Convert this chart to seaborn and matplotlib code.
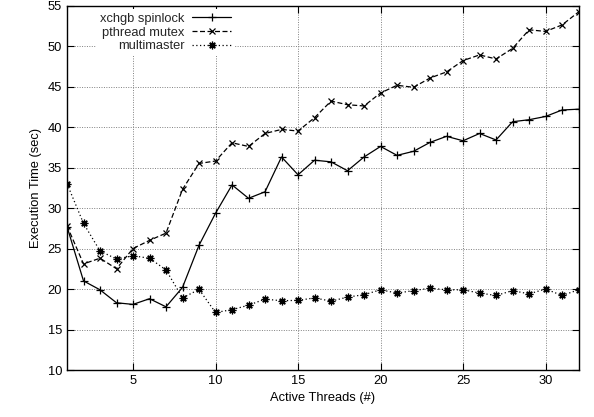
import matplotlib
matplotlib.use("Agg")
import matplotlib.pyplot as plt
import seaborn as sns
import pandas as pd

threads = list(range(1, 33))
spinlock = [27.7, 21.0, 19.9, 18.3, 18.1, 18.8, 17.8, 20.2, 25.4, 29.35,
            32.85, 31.2, 32.0, 36.3, 34.1, 35.9, 35.7, 34.6, 36.3, 37.6,
            36.5, 37.0, 38.1, 38.85, 38.3, 39.2, 38.4, 40.65, 40.9, 41.3,
            42.1, 42.2]
pthread = [27.8, 23.1, 23.8, 22.5, 25.0, 26.0, 26.9, 32.3, 35.5, 35.8,
           38.05, 37.6, 39.2, 39.7, 39.5, 41.15, 43.2, 42.75, 42.6, 44.2,
           45.15, 44.9, 46.05, 46.8, 48.2, 48.9, 48.4, 49.7, 52.0, 51.8,
           52.6, 54.2]
multimaster = [33.0, 28.1, 24.7, 23.7, 24.1, 23.8, 22.35, 18.9, 19.95, 17.1,
               17.45, 18.0, 18.75, 18.55, 18.6, 18.9, 18.5, 19.0, 19.3, 19.9,
               19.5, 19.8, 20.1, 19.9, 19.9, 19.5, 19.2, 19.8, 19.4, 20.0,
               19.2, 19.9]

series_names = ["xchgb spinlock", "pthread mutex", "multimaster"]
x_ticks = [5, 10, 15, 20, 25, 30]
y_ticks = [10, 15, 20, 25, 30, 35, 40, 45, 50, 55]

sns.set_theme(style="white")
plt.rcParams['font.family'] = ['Liberation Sans', 'DejaVu Sans']
FS = 9.3
plt.rcParams['font.size'] = FS

fig = plt.figure(figsize=(5.94, 4.17), dpi=100)
ax = fig.add_axes([0.1128, 0.1127, 0.974 - 0.1128, 0.9868 - 0.1127])

styles = [
    dict(linestyle='-', marker='+', markersize=5.5),
    dict(linestyle=(0, (4, 2)), marker='x', markersize=4.5),
    dict(linestyle=(0, (1, 2)), marker=(8, 2, 0), markersize=5.5),
]
for name, vals, st in zip(series_names, [spinlock, pthread, multimaster], styles):
    df = pd.DataFrame({"threads": threads, "time": vals})
    sns.lineplot(data=df, x="threads", y="time", ax=ax, color='black',
                 linewidth=0.9, markeredgewidth=0.9, markeredgecolor='black',
                 markerfacecolor='black', label=name, **st)

ax.set_xlim(1, 32)
ax.set_ylim(10, 55)
ax.set_xticks(x_ticks)
ax.set_yticks(y_ticks)
ax.set_xlabel("Active Threads (#)", fontsize=FS, color='black')
ax.set_ylabel("Execution Time (sec)", fontsize=FS, color='black')
ax.tick_params(direction='in', length=5, width=0.8, top=True, right=True,
               labelsize=FS, colors='black', bottom=True, left=True)
ax.grid(True, linestyle=(0, (1, 1.5)), color='#808080', linewidth=0.7)
ax.set_axisbelow(True)
for s in ax.spines.values():
    s.set_color('black')
    s.set_linewidth(1.0)

leg = ax.legend(loc='upper left', bbox_to_anchor=(0.045, 1.008), markerfirst=False,
                frameon=True, fontsize=FS, handlelength=3.0, labelspacing=0.12,
                borderpad=0.3, handletextpad=0.6, borderaxespad=0.5)
leg.get_frame().set_facecolor('white')
leg.get_frame().set_edgecolor('none')
leg.get_frame().set_alpha(1.0)
for t in leg.get_texts():
    t.set_ha('right')
leg._legend_box.align = "right"

fig.savefig("out.png", dpi=100)
